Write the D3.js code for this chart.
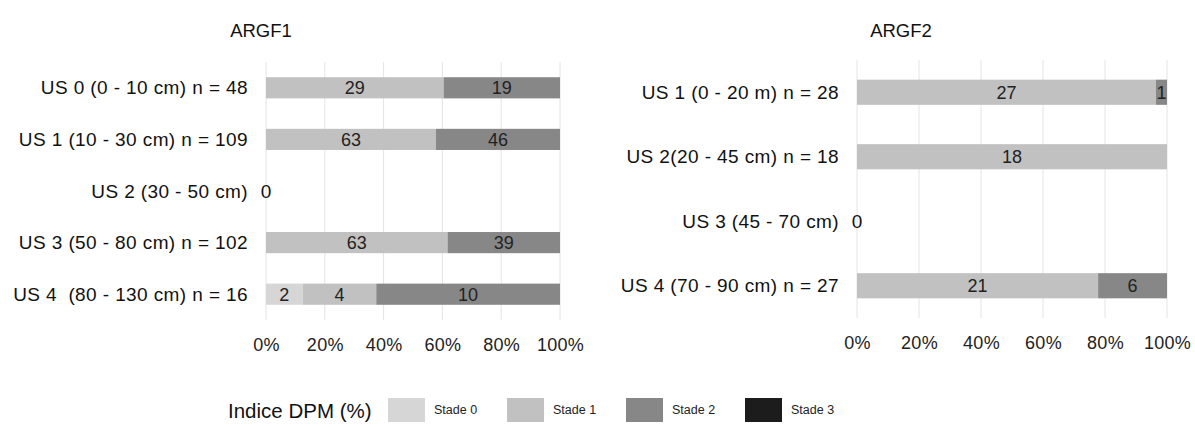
<!DOCTYPE html>
<html>
<head>
<meta charset="utf-8">
<script src="https://cdn.jsdelivr.net/npm/d3@7"></script>
<style>
  body { margin: 0; background: #fff; }
  text { font-family: "Liberation Sans", Arial, sans-serif; }
</style>
</head>
<body>
<div id="chart"></div>
<script>
// Données (effectifs par stade)
const stades = ["Stade 0", "Stade 1", "Stade 2", "Stade 3"];
const couleurs = ["#d6d6d6", "#c1c1c1", "#878787", "#1c1c1c"];
const ticksPct = [0, 0.2, 0.4, 0.6, 0.8, 1];

const argf1Labels = [
  "US 0 (0 - 10 cm) n = 48",
  "US 1 (10 - 30 cm) n = 109",
  "US 2 (30 - 50 cm)",
  "US 3 (50 - 80 cm) n = 102",
  "US 4  (80 - 130 cm) n = 16"
];
const argf1Stade0 = [0, 0, 0, 0, 2];
const argf1Stade1 = [29, 63, 0, 63, 4];
const argf1Stade2 = [19, 46, 0, 39, 10];
const argf1Stade3 = [0, 0, 0, 0, 0];

const argf2Labels = [
  "US 1 (0 - 20 m) n = 28",
  "US 2(20 - 45 cm) n = 18",
  "US 3 (45 - 70 cm)",
  "US 4 (70 - 90 cm) n = 27"
];
const argf2Stade0 = [0, 0, 0, 0];
const argf2Stade1 = [27, 18, 0, 21];
const argf2Stade2 = [1, 0, 0, 6];
const argf2Stade3 = [0, 0, 0, 0];

const W = 1195, H = 427;
const svg = d3.select("#chart").append("svg")
  .attr("width", W)
  .attr("height", H);

function drawPanel(cfg) {
  const rows = cfg.labels.map((lab, i) => {
    const vals = cfg.series.map(s => s[i]);
    return { lab, vals, total: d3.sum(vals) };
  });

  const x = d3.scaleLinear().domain([0, 1]).range([cfg.x0, cfg.x1]);
  const y = d3.scaleBand()
    .domain(cfg.labels)
    .range([cfg.y0, cfg.y1])
    .paddingInner(cfg.pad)
    .paddingOuter(cfg.pad / 2);

  const g = svg.append("g");

  // titre
  g.append("text")
    .attr("x", cfg.titleX)
    .attr("y", 37)
    .attr("text-anchor", "middle")
    .style("font-size", "18.5px")
    .style("fill", "#111")
    .text(cfg.title);

  // grille verticale
  g.selectAll(".grid")
    .data(ticksPct)
    .enter().append("line")
    .attr("x1", d => x(d)).attr("x2", d => x(d))
    .attr("y1", cfg.y0).attr("y2", cfg.y1)
    .attr("stroke", "#e4e4e4")
    .attr("stroke-width", 1);

  // axe x (libellés seulement)
  const ax = g.append("g")
    .attr("transform", `translate(0,${cfg.y1})`)
    .call(d3.axisBottom(x).tickValues(ticksPct).tickFormat(d3.format(".0%")).tickSize(0).tickPadding(18));
  ax.select(".domain").remove();
  ax.selectAll("text")
    .style("font-size", "18px")
    .style("letter-spacing", "0.3px")
    .style("font-family", "'Liberation Sans', Arial, sans-serif")
    .style("fill", "#222");

  // libellés des catégories (espaces conservés)
  g.selectAll(".cat")
    .data(rows)
    .enter().append("text")
    .attr("x", cfg.x0 - 18)
    .attr("y", d => y(d.lab) + y.bandwidth() / 2)
    .attr("dy", "0.35em")
    .attr("text-anchor", "end")
    .style("white-space", "pre")
    .style("font-size", "19px")
    .style("letter-spacing", "0.4px")
    .style("fill", "#111")
    .text(d => d.lab);

  // barres empilées à 100 %
  rows.forEach(r => {
    let cum = 0;
    if (r.total === 0) {
      g.append("text")
        .attr("x", x(0))
        .attr("y", y(r.lab) + y.bandwidth() / 2)
        .attr("dy", "0.35em")
        .attr("text-anchor", "middle")
        .style("font-size", "19px")
        .style("fill", "#111")
        .text("0");
      return;
    }
    r.vals.forEach((v, k) => {
      if (v === 0) return;
      const a = cum / r.total, b = (cum + v) / r.total;
      cum += v;
      g.append("rect")
        .attr("x", x(a))
        .attr("y", y(r.lab))
        .attr("width", x(b) - x(a))
        .attr("height", y.bandwidth())
        .attr("fill", couleurs[k]);
      g.append("text")
        .attr("x", (x(a) + x(b)) / 2)
        .attr("y", y(r.lab) + y.bandwidth() / 2)
        .attr("dy", "0.36em")
        .attr("text-anchor", "middle")
        .style("font-size", "18px")
        .style("fill", "#222")
        .text(v);
    });
  });
}

drawPanel({
  title: "ARGF1", titleX: 261,
  labels: argf1Labels,
  series: [argf1Stade0, argf1Stade1, argf1Stade2, argf1Stade3],
  x0: 266, x1: 560, y0: 62, y1: 320, pad: 0.59
});

drawPanel({
  title: "ARGF2", titleX: 901,
  labels: argf2Labels,
  series: [argf2Stade0, argf2Stade1, argf2Stade2, argf2Stade3],
  x0: 857, x1: 1167, y0: 60, y1: 318, pad: 0.61
});

// légende
const leg = svg.append("g");
leg.append("text")
  .attr("x", 228)
  .attr("y", 418)
  .style("font-size", "20.5px")
  .style("fill", "#111")
  .text("Indice DPM (%)");

const legX = [388, 507, 626, 745];
const legend = leg.selectAll(".leg")
  .data(stades)
  .enter().append("g")
  .attr("transform", (d, i) => `translate(${legX[i]},398)`);
legend.append("rect")
  .attr("width", 37)
  .attr("height", 24)
  .attr("fill", (d, i) => couleurs[i]);
legend.append("text")
  .attr("x", 46)
  .attr("y", 16)
  .style("font-size", "12.5px")
  .style("fill", "#222")
  .text(d => d);
</script>
</body>
</html>
